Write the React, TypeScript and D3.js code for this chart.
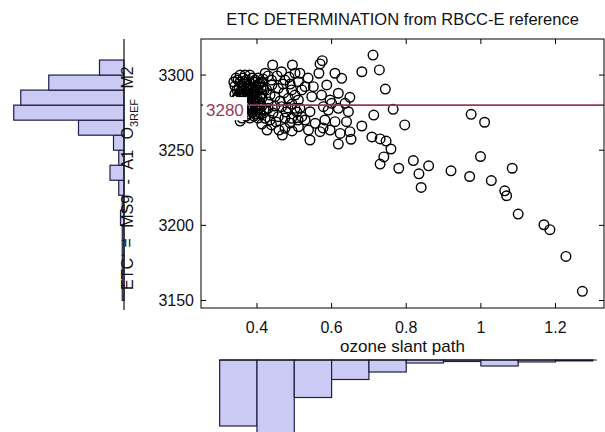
import React from "react";
import * as d3 from "d3";

const W = 605;
const H = 432;

const titleText = "ETC DETERMINATION from RBCC-E reference";
const xLabelText = "ozone slant path";
const refValue = 3280;
const refLabel = "3280";

const xTicks = [0.4, 0.6, 0.8, 1, 1.2];
const xTickLabels = ["0.4", "0.6", "0.8", "1", "1.2"];
const yTicks = [3150, 3200, 3250, 3300];
const yTickLabels = ["3150", "3200", "3250", "3300"];

// dense core of the cloud (x < 0.42)
const corePoints: [number, number][] = [
  [0.355, 3300.0], [0.368, 3300.0], [0.381, 3300.0],
  [0.344, 3298.0], [0.363, 3298.0], [0.387, 3298.0], [0.403, 3298.0],
  [0.338, 3295.4], [0.355, 3295.4], [0.373, 3295.4], [0.392, 3295.4], [0.413, 3295.4],
  [0.341, 3292.7], [0.36, 3292.7], [0.379, 3292.7], [0.397, 3292.7],
  [0.346, 3290.1], [0.365, 3290.1], [0.384, 3290.1], [0.403, 3290.1], [0.419, 3290.1],
  [0.341, 3287.4], [0.357, 3287.4], [0.376, 3287.4], [0.395, 3287.4], [0.413, 3287.4],
  [0.346, 3284.7], [0.363, 3284.7], [0.381, 3284.7], [0.4, 3284.7],
  [0.355, 3282.1], [0.371, 3282.1], [0.389, 3282.1], [0.408, 3282.1],
  [0.376, 3279.4], [0.395, 3279.4], [0.413, 3279.4],
  [0.365, 3276.7], [0.384, 3276.7], [0.403, 3276.7], [0.419, 3276.7],
  [0.376, 3274.1], [0.395, 3274.1], [0.411, 3274.1],
  [0.36, 3271.4], [0.381, 3271.4], [0.403, 3271.4],
  [0.355, 3269.4],
  [0.349, 3296.7], [0.371, 3296.7], [0.395, 3296.7],
  [0.365, 3294.0], [0.384, 3294.0], [0.405, 3294.0],
  [0.352, 3291.4], [0.371, 3291.4], [0.389, 3291.4], [0.411, 3291.4],
  [0.355, 3288.7], [0.373, 3288.7], [0.392, 3288.7],
  [0.349, 3286.1], [0.368, 3286.1], [0.387, 3286.1], [0.408, 3286.1],
  [0.344, 3283.4], [0.376, 3283.4], [0.395, 3283.4],
  [0.384, 3280.7], [0.403, 3280.7],
  [0.387, 3278.1], [0.408, 3278.1],
  [0.368, 3275.4], [0.389, 3275.4],
  [0.371, 3272.7], [0.392, 3272.7],
];

// medium-density part of the cloud (0.4 .. 0.66)
const midPoints: [number, number][] = [
  [0.442, 3306.7], [0.495, 3306.7], [0.422, 3301.2], [0.466, 3302.2], [0.502, 3301.2],
  [0.408, 3294.5], [0.439, 3296.7], [0.475, 3296.7], [0.511, 3295.6],
  [0.426, 3290.1], [0.457, 3291.2], [0.493, 3290.1], [0.52, 3290.1],
  [0.413, 3284.5], [0.448, 3285.6], [0.484, 3284.5], [0.511, 3283.4],
  [0.43, 3277.9], [0.466, 3279.0], [0.502, 3277.9],
  [0.422, 3271.2], [0.457, 3272.3], [0.493, 3271.2], [0.52, 3272.3],
  [0.439, 3266.8], [0.475, 3264.6], [0.511, 3265.6], [0.468, 3260.1],
  [0.43, 3299.4], [0.454, 3299.4], [0.486, 3298.7], [0.416, 3292.1], [0.44, 3293.4],
  [0.472, 3288.1], [0.502, 3286.7], [0.43, 3282.1], [0.462, 3282.7], [0.494, 3280.7],
  [0.443, 3274.7], [0.478, 3275.4], [0.408, 3274.7], [0.507, 3275.4], [0.451, 3268.8],
  [0.489, 3268.1], [0.413, 3267.4], [0.459, 3263.4], [0.494, 3262.8], [0.427, 3263.4],
  [0.416, 3297.4], [0.47, 3294.0], [0.435, 3286.7], [0.489, 3294.0], [0.424, 3276.7],
  [0.475, 3271.4], [0.51, 3270.1], [0.448, 3279.4], [0.483, 3278.1], [0.435, 3270.1],
  [0.515, 3301.2], [0.537, 3298.0], [0.566, 3301.2], [0.575, 3309.6], [0.569, 3307.4],
  [0.609, 3301.2], [0.627, 3297.8], [0.587, 3293.4], [0.551, 3292.3], [0.529, 3292.3],
  [0.618, 3287.9], [0.649, 3285.2], [0.547, 3285.6], [0.573, 3286.7], [0.596, 3283.4],
  [0.515, 3277.9], [0.542, 3275.6], [0.578, 3279.0], [0.591, 3276.7], [0.618, 3277.9],
  [0.645, 3275.6], [0.6, 3281.2], [0.636, 3281.2], [0.529, 3270.1], [0.556, 3267.9],
  [0.582, 3270.1], [0.609, 3269.0], [0.64, 3269.0], [0.538, 3263.4], [0.569, 3262.3],
  [0.596, 3263.4], [0.623, 3261.2], [0.649, 3262.3], [0.618, 3254.1], [0.652, 3257.3],
  [0.542, 3256.8], [0.577, 3264.8],
];

// sparse tail of the cloud
const tailPoints: [number, number][] = [
  [0.711, 3313.3], [0.681, 3302.2], [0.728, 3303.4], [0.744, 3290.7], [0.765, 3277.2],
  [0.713, 3273.4], [0.681, 3266.1], [0.796, 3266.8], [0.708, 3258.8], [0.73, 3257.5],
  [0.746, 3256.1], [0.759, 3250.8], [0.74, 3245.5], [0.73, 3240.8], [0.78, 3238.0],
  [0.974, 3273.9], [1.01, 3268.6], [0.819, 3243.1], [0.86, 3239.6], [0.834, 3234.3],
  [0.84, 3225.2], [0.92, 3236.3], [0.97, 3232.5], [0.999, 3245.8], [1.028, 3229.8],
  [1.084, 3238.0], [1.064, 3223.0], [1.069, 3219.7], [1.1, 3207.5], [1.169, 3200.4],
  [1.185, 3197.1], [1.228, 3179.3], [1.272, 3156.1],
];

// histogram of ETC (left side), 10-unit bins
const leftBinStarts = [3150, 3160, 3170, 3180, 3190, 3200, 3210, 3220, 3230, 3240, 3250, 3260, 3270, 3280, 3290, 3300];
const leftCounts = [1, 1, 1, 1, 1, 2, 1, 3, 8, 3, 6, 26, 63, 59, 43, 14];
const leftBinWidth = 10;

// histogram of ozone slant path (bottom), 0.1 bins
const bottomBinStarts = [0.3, 0.4, 0.5, 0.6, 0.7, 0.8, 0.9, 1.0, 1.1, 1.2];
const bottomCounts = [44, 52, 25, 13, 8, 2, 1, 4, 1.3, 0.6];
const bottomBinWidth = 0.1;

const FONT = "'Liberation Sans', Arial, Helvetica, sans-serif";
const HIST_FILL = "#cacaf4";
const HIST_EDGE = "#1e1e44";
const REF_COLOR = "#953a5c";

export default function App() {
  const plotL = 201, plotR = 604, plotT = 39, plotB = 308;
  const x = d3.scaleLinear().domain([0.25, 1.33]).range([plotL, plotR]);
  const y = d3.scaleLinear().domain([3145, 3324]).range([plotB, plotT]);

  const leftBase = 124;
  const leftLen = d3.scaleLinear().domain([0, 64]).range([0, 112]);
  const bottomBase = 360;
  const bottomLen = d3.scaleLinear().domain([0, 44]).range([0, 66]);

  const allPoints = [...corePoints, ...midPoints, ...tailPoints];
  const tickLen = 5;

  return (
    <svg width={W} height={H} viewBox={`0 0 ${W} ${H}`}
      style={{ position: "absolute", left: 0, top: 0, background: "#fff" }}
      fontFamily={FONT}>
      <rect x={0} y={0} width={W} height={H} fill="#fff" />

      {/* title */}
      <text x={(plotL + plotR) / 2} y={25} textAnchor="middle" fontSize={16.5} fill="#111">{titleText}</text>

      {/* scatter */}
      <g fill="none" stroke="#000" strokeWidth={1.4}>
        {allPoints.map((p, i) => (
          <circle key={i} cx={x(p[0])} cy={y(p[1])} r={4.8} />
        ))}
      </g>

      {/* reference line */}
      <line x1={plotL} x2={plotR} y1={y(refValue)} y2={y(refValue)} stroke={REF_COLOR} strokeWidth={1.8} />
      <rect x={plotL + 2} y={y(refValue) - 8} width={44} height={23} fill="#fff" />
      <text x={plotL + 5} y={y(refValue) + 11} fontSize={17} fill={REF_COLOR}>{refLabel}</text>

      {/* axes box */}
      <rect x={plotL} y={plotT} width={plotR - plotL} height={plotB - plotT} fill="none" stroke="#000" strokeWidth={1} />
      {xTicks.map((t, i) => (
        <g key={"xt" + i}>
          <line x1={x(t)} x2={x(t)} y1={plotB} y2={plotB - tickLen} stroke="#000" />
          <line x1={x(t)} x2={x(t)} y1={plotT} y2={plotT + tickLen} stroke="#000" />
          <text x={x(t)} y={333} textAnchor="middle" fontSize={16} fill="#111">{xTickLabels[i]}</text>
        </g>
      ))}
      {yTicks.map((t, i) => (
        <g key={"yt" + i}>
          <line x1={plotL} x2={plotL + tickLen} y1={y(t)} y2={y(t)} stroke="#000" />
          <line x1={plotR} x2={plotR - tickLen} y1={y(t)} y2={y(t)} stroke="#000" />
          <text x={194} y={y(t) + 6} textAnchor="end" fontSize={16} fill="#111">{yTickLabels[i]}</text>
        </g>
      ))}
      <text x={(plotL + plotR) / 2} y={352} textAnchor="middle" fontSize={17} fill="#111">{xLabelText}</text>

      {/* left histogram */}
      <g>
        {leftBinStarts.map((b, i) => {
          const y0 = y(b + leftBinWidth);
          const y1 = y(b);
          const len = leftLen(leftCounts[i]);
          return (
            <rect key={"lh" + i} x={leftBase - len} y={y0} width={len} height={y1 - y0}
              fill={HIST_FILL} stroke={HIST_EDGE} strokeWidth={1.2} />
          );
        })}
        <line x1={leftBase} x2={leftBase} y1={plotT} y2={plotB + 2} stroke="#111" strokeWidth={1.2} />
      </g>

      {/* bottom histogram */}
      <g>
        {bottomBinStarts.map((b, i) => {
          const x0 = x(b);
          const x1 = x(b + bottomBinWidth);
          const len = bottomLen(bottomCounts[i]);
          return (
            <rect key={"bh" + i} x={x0} y={bottomBase} width={x1 - x0} height={len}
              fill={HIST_FILL} stroke={HIST_EDGE} strokeWidth={1.2} />
          );
        })}
        <line x1={x(bottomBinStarts[0])} x2={x(bottomBinStarts[bottomBinStarts.length - 1] + bottomBinWidth) + 4}
          y1={bottomBase} y2={bottomBase} stroke="#111" strokeWidth={1.2} />
      </g>

      {/* y label (rotated) */}
      <text transform={`translate(133,290) rotate(-90)`} fontSize={16} fill="#111" style={{ wordSpacing: "6px" }}>
        <tspan>ETC = MS9 - A1 O</tspan>
        <tspan fontSize={11} dy={5}>3REF</tspan>
        <tspan dy={-5}> M2</tspan>
      </text>
    </svg>
  );
}
